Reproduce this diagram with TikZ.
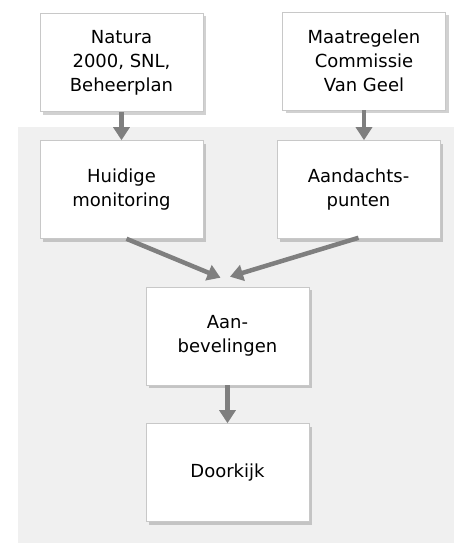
\documentclass[tikz,border=0pt]{standalone}
\usepackage{fontspec}
\setmainfont{DejaVu Sans}
\usetikzlibrary{arrows.meta,shadows,calc}
\definecolor{bgray}{HTML}{F0F0F0}
\definecolor{agray}{HTML}{7F7F7F}
\definecolor{bord}{HTML}{C8C8C8}
\tikzset{
  box/.style={draw=bord, line width=0.6pt, fill=white, minimum width=163pt, minimum height=98pt,
    inner sep=0pt, align=center, font=\fontsize{18}{24}\selectfont,
    drop shadow={shadow xshift=3pt, shadow yshift=-3pt, fill=black, opacity=0.18}},
  flow/.style={draw=agray, line width=4.5pt, -{Triangle[width=16pt,length=13pt]}, shorten >=0pt}
}
\begin{document}
\begin{tikzpicture}[x=1pt,y=-1pt]
\useasboundingbox (0,0) rectangle (454,543);
\fill[white] (0,0) rectangle (454,543);
\fill[bgray] (18,127) rectangle (454,543);
\node[box] (n) at (121.5,62.5) {Natura\\2000, SNL,\\Beheerplan};
\node[box] (m) at (364,61) {Maatregelen\\Commissie\\Van Geel};
\node[box] (h) at (121.5,189.5) {Huidige\\monitoring};
\node[box] (a) at (358.5,189.5) {Aandachts-\\punten};
\node[box] (ab) at (227.5,336) {Aan-\\bevelingen};
\node[box] (d) at (227.5,472.5) {Doorkijk};
\draw[flow] (n.south) -- (n.south |- h.north);
\draw[flow] (m.south) -- (m.south |- a.north);
\draw[flow] ($(h.south)+(5,0)$) -- ($(ab.north)+(-7,-9)$);
\draw[flow] ($(a.south)+(0,-1)$) -- ($(ab.north)+(2.5,-10)$);
\draw[flow] (ab.south) -- (d.north);
\end{tikzpicture}
\end{document}
